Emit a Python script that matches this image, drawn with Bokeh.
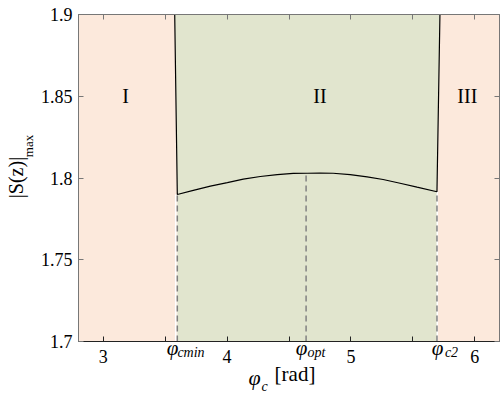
import numpy as np
from bokeh.plotting import figure
from bokeh.models import Range1d, FixedTicker, LinearAxis, Label
from bokeh.embed import file_html
from bokeh.resources import INLINE

# ---- data ----
phi_curve = [3.577, 3.598, 3.727, 3.865, 4.002, 4.131, 4.268, 4.405, 4.534, 4.647,
             4.75, 4.856, 4.994, 5.131, 5.260, 5.397, 5.534, 5.695, 5.719]
s_curve = [1.9, 1.7899, 1.7924, 1.7950, 1.7972, 1.7993, 1.8009, 1.8021, 1.8028, 1.8029,
           1.8030, 1.8029, 1.8021, 1.8007, 1.7991, 1.7968, 1.7944, 1.7916, 1.9]
phi_cmin = 3.598
phi_opt = 4.638
phi_c2 = 5.695
s_cmin = 1.7899
s_opt = 1.8029
s_c2 = 1.7916
x_major = [3, 4, 5, 6]
x_minor = [3.5, 4.5, 5.5]
x_all = [3, 3.5, 4, 4.5, 5, 5.5, 6]
y_ticks = [1.7, 1.75, 1.8, 1.85, 1.9]
y_tick_labels = {1.7: "1.7", 1.75: "1.75", 1.8: "1.8", 1.85: "1.85", 1.9: "1.9"}
phi_names = ["cmin", "opt", "c2"]
region_names = ["I", "II", "III"]
region_x = [3.18, 4.75, 5.94]
region_y = [1.85, 1.85, 1.85]
x_min, x_max = 2.8, 6.2
y_min, y_max = 1.7, 1.9

PEACH = "#FCE9DC"
GREEN = "#E1E5CE"
SERIF = "Liberation Serif"

FRAME_L, FRAME_R, FRAME_T, FRAME_B = 78, 499, 14, 341

def px_to_x(px):
    return x_min + (px - FRAME_L) * (x_max - x_min) / (FRAME_R - FRAME_L)

def py_to_y(py):
    return y_max - (py - FRAME_T) * (y_max - y_min) / (FRAME_B - FRAME_T)

p = figure(width=500, height=397, output_backend="svg", toolbar_location=None,
           x_range=Range1d(x_min, x_max), y_range=Range1d(y_min, y_max),
           min_border_left=78, min_border_right=1, min_border_top=14, min_border_bottom=56,
           x_axis_location=None, y_axis_location=None)
p.grid.visible = False
p.background_fill_color = "white"
p.border_fill_color = "white"
p.outline_line_color = "#777777"
p.outline_line_width = 1

# regions
p.patch([x_min, phi_cmin, phi_curve[1], phi_curve[0], x_min],
        [y_min, y_min, s_curve[1], y_max, y_max], fill_color=PEACH, line_color=None)
p.patch([phi_c2, x_max, x_max, phi_curve[-1], phi_curve[-2]],
        [y_min, y_min, y_max, y_max, s_curve[-2]], fill_color=PEACH, line_color=None)
p.patch([phi_curve[0], phi_curve[-1], phi_curve[-2], phi_c2, phi_cmin, phi_curve[1]],
        [y_max, y_max, s_curve[-2], y_min, y_min, s_curve[1]], fill_color=GREEN, line_color=None)

# white separators below the curve
dx = 1.6 * (x_max - x_min) / 421
p.segment(x0=[phi_cmin - dx, phi_c2 + dx * 0.2], y0=[y_min, y_min],
          x1=[phi_cmin - dx, phi_c2 + dx * 0.2], y1=[s_cmin, s_c2],
          line_color="white", line_width=1.5)

# dashed guide lines
p.segment(x0=[phi_cmin, phi_opt, phi_c2], y0=[y_min] * 3,
          x1=[phi_cmin, phi_opt, phi_c2], y1=[s_cmin, s_opt, s_c2],
          line_color="#808080", line_width=1.5, line_dash="6 4")

# curve
p.line(phi_curve, s_curve, line_color="black", line_width=1.2)

# region labels
for name, rx, ry in zip(region_names, region_x, region_y):
    p.add_layout(Label(x=rx, y=ry, text=name, text_font=SERIF, text_font_size="20px",
                       text_align="center", text_baseline="middle", text_color="black"))

# ---- axes ----
def tick_axis(ticks, color):
    ax = LinearAxis(ticker=FixedTicker(ticks=[], minor_ticks=ticks))
    ax.minor_tick_in = 5
    ax.minor_tick_out = 0
    ax.major_tick_in = 0
    ax.major_tick_out = 0
    ax.major_label_standoff = 0
    ax.axis_line_color = color
    ax.minor_tick_line_color = color
    return ax

def text_axis(positions, labels, size, standoff, style=None, vertical=False, font=SERIF):
    ax = LinearAxis(ticker=FixedTicker(ticks=positions),
                    major_label_overrides={pos: lab for pos, lab in zip(positions, labels)})
    ax.major_tick_in = 0
    ax.major_tick_out = 0
    ax.minor_tick_in = 0
    ax.minor_tick_out = 0
    ax.axis_line_color = None
    ax.major_tick_line_color = None
    ax.minor_tick_line_color = None
    ax.major_label_text_font = font
    ax.major_label_text_font_size = f"{size}px"
    if style is not None:
        ax.major_label_text_font_style = style
    ax.major_label_text_color = "black"
    ax.major_label_standoff = standoff
    if vertical:
        ax.major_label_orientation = "vertical"
    return ax

# frame box lines and inward ticks
p.add_layout(tick_axis(x_all, "#222222"), "below")
p.add_layout(tick_axis(y_ticks, "#777777"), "left")
p.add_layout(tick_axis(x_all, "#777777"), "above")
p.add_layout(tick_axis(y_ticks, "#777777"), "right")

# bottom texts (stacked outward from the frame)
phi_sym_px = [172, 301, 437]
phi_sub_px = [190.5, 316, 451]
p.add_layout(text_axis([px_to_x(v) for v in phi_sym_px], ["φ"] * 3, 21, -6, "italic"), "below")
p.add_layout(text_axis([px_to_x(v) for v in phi_sub_px], phi_names, 14, -18, "italic"), "below")
p.add_layout(text_axis(x_major, [str(v) for v in x_major], 18, -13), "below")
p.add_layout(text_axis([px_to_x(294.5)], ["[rad]"], 21, -4), "below")
p.add_layout(text_axis([px_to_x(254)], ["φ"], 22, -24, "italic"), "below")
p.add_layout(text_axis([px_to_x(264)], ["c"], 14, -14, "italic"), "below")

# left texts (stacked outward from the frame)
p.add_layout(text_axis(y_ticks, [y_tick_labels[v] for v in y_ticks], 18, 6), "left")
p.add_layout(text_axis([py_to_y(145.5)], ["max"], 13, 2, vertical=True), "left")
p.add_layout(text_axis([py_to_y(177)], ["|S(z)|"], 20, -9, vertical=True), "left")

open("out.html", "w").write(file_html(p, INLINE))
